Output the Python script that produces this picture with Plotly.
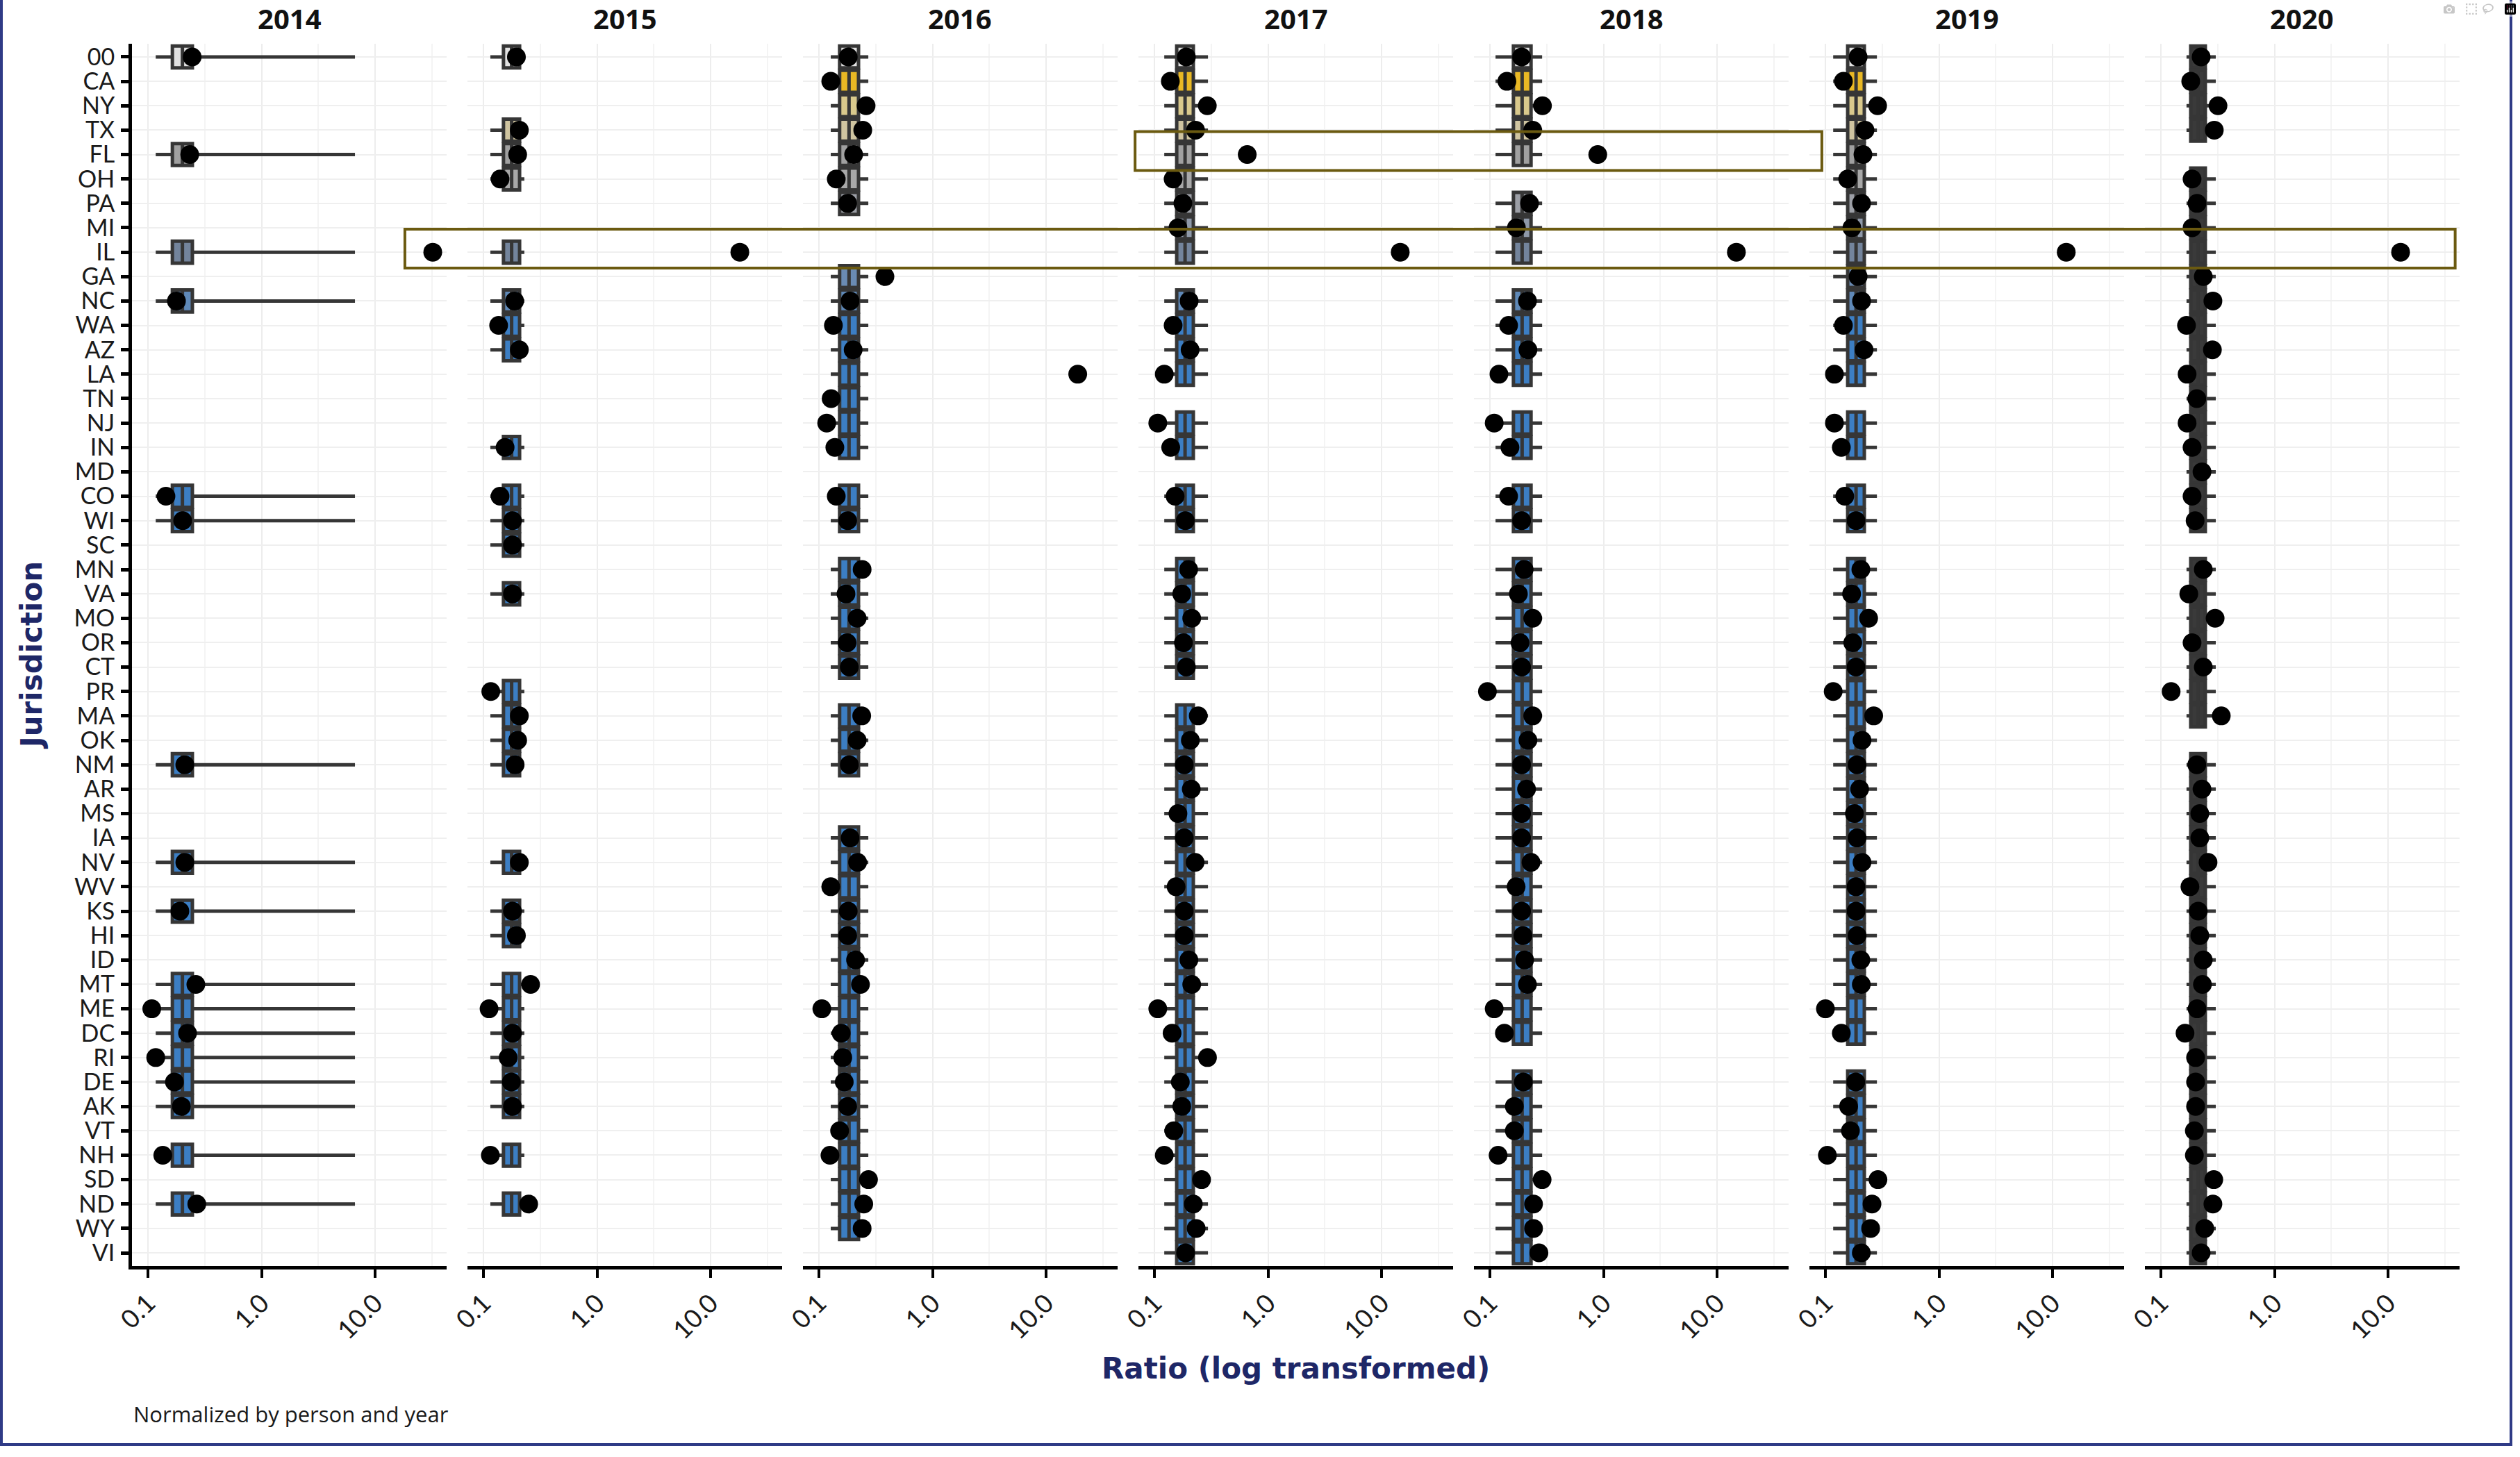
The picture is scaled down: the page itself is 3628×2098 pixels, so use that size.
import math
import plotly.graph_objects as go

# ---------------- data ----------------
jurisdictions = ["00", "CA", "NY", "TX", "FL", "OH", "PA", "MI", "IL", "GA",
                 "NC", "WA", "AZ", "LA", "TN", "NJ", "IN", "MD", "CO", "WI",
                 "SC", "MN", "VA", "MO", "OR", "CT", "PR", "MA", "OK", "NM",
                 "AR", "MS", "IA", "NV", "WV", "KS", "HI", "ID", "MT", "ME",
                 "DC", "RI", "DE", "AK", "VT", "NH", "SD", "ND", "WY", "VI"]
years = [2014, 2015, 2016, 2017, 2018, 2019, 2020]
x_tick_values = [0.1, 1, 10]
x_tick_labels = ["0.1", "1.0", "10.0"]

ratio_2014 = {"00": 0.245, "FL": 0.233, "IL": 32.2, "NC": 0.178, "CO": 0.144,
              "WI": 0.202, "NM": 0.211, "NV": 0.211, "KS": 0.191, "MT": 0.264,
              "ME": 0.108, "DC": 0.223, "RI": 0.117, "DE": 0.171, "AK": 0.197,
              "NH": 0.135, "ND": 0.269}
ratio_2015 = {"00": 0.195, "TX": 0.207, "FL": 0.200, "OH": 0.140, "IL": 18.1,
              "NC": 0.188, "WA": 0.136, "AZ": 0.207, "IN": 0.155, "CO": 0.140,
              "WI": 0.180, "SC": 0.180, "VA": 0.180, "PR": 0.116, "MA": 0.207,
              "OK": 0.200, "NM": 0.190, "NV": 0.207, "KS": 0.180, "HI": 0.195,
              "MT": 0.260, "ME": 0.112, "DC": 0.180, "RI": 0.165, "DE": 0.176,
              "AK": 0.180, "NH": 0.115, "ND": 0.250}
ratio_2016 = {"00": 0.181, "CA": 0.127, "NY": 0.260, "TX": 0.243, "FL": 0.202,
              "OH": 0.142, "PA": 0.179, "GA": 0.381, "NC": 0.188, "WA": 0.134,
              "AZ": 0.200, "LA": 19.0, "TN": 0.128, "NJ": 0.117, "IN": 0.138,
              "CO": 0.142, "WI": 0.179, "MN": 0.240, "VA": 0.173, "MO": 0.217,
              "OR": 0.177, "CT": 0.185, "MA": 0.238, "OK": 0.217, "NM": 0.185,
              "IA": 0.188, "NV": 0.219, "WV": 0.127, "KS": 0.181, "HI": 0.179,
              "ID": 0.210, "MT": 0.232, "ME": 0.106, "DC": 0.157, "RI": 0.162,
              "DE": 0.167, "AK": 0.179, "VT": 0.152, "NH": 0.125, "SD": 0.273,
              "ND": 0.248, "WY": 0.240}
ratio_2017 = {"00": 0.191, "CA": 0.138, "NY": 0.292, "TX": 0.230, "FL": 0.656,
              "OH": 0.146, "PA": 0.178, "MI": 0.161, "IL": 14.6, "NC": 0.202,
              "WA": 0.146, "AZ": 0.206, "LA": 0.122, "NJ": 0.107, "IN": 0.139,
              "CO": 0.152, "WI": 0.187, "MN": 0.200, "VA": 0.174, "MO": 0.213,
              "OR": 0.180, "CT": 0.191, "MA": 0.243, "OK": 0.207, "NM": 0.183,
              "AR": 0.211, "MS": 0.161, "IA": 0.183, "NV": 0.228, "WV": 0.155,
              "KS": 0.183, "HI": 0.183, "ID": 0.201, "MT": 0.213, "ME": 0.107,
              "DC": 0.143, "RI": 0.293, "DE": 0.169, "AK": 0.174, "VT": 0.148,
              "NH": 0.122, "SD": 0.260, "ND": 0.220, "WY": 0.233, "VI": 0.188}
ratio_2018 = {"00": 0.190, "CA": 0.141, "NY": 0.290, "TX": 0.238, "FL": 0.890,
              "PA": 0.223, "MI": 0.171, "IL": 14.8, "NC": 0.214, "WA": 0.146,
              "AZ": 0.216, "LA": 0.120, "NJ": 0.109, "IN": 0.150, "CO": 0.146,
              "WI": 0.190, "MN": 0.200, "VA": 0.178, "MO": 0.238, "OR": 0.184,
              "CT": 0.190, "PR": 0.095, "MA": 0.238, "OK": 0.216, "NM": 0.190,
              "AR": 0.210, "MS": 0.190, "IA": 0.190, "NV": 0.230, "WV": 0.170,
              "KS": 0.190, "HI": 0.195, "ID": 0.202, "MT": 0.214, "ME": 0.109,
              "DC": 0.134, "DE": 0.197, "AK": 0.164, "VT": 0.164, "NH": 0.118,
              "SD": 0.288, "ND": 0.242, "WY": 0.242, "VI": 0.270}
ratio_2019 = {"00": 0.194, "CA": 0.144, "NY": 0.288, "TX": 0.223, "FL": 0.214,
              "OH": 0.157, "PA": 0.208, "MI": 0.171, "IL": 13.2, "GA": 0.194,
              "NC": 0.208, "WA": 0.144, "AZ": 0.219, "LA": 0.120, "NJ": 0.120,
              "IN": 0.138, "CO": 0.148, "WI": 0.186, "MN": 0.205, "VA": 0.170,
              "MO": 0.240, "OR": 0.174, "CT": 0.186, "PR": 0.117, "MA": 0.266,
              "OK": 0.210, "NM": 0.190, "AR": 0.200, "MS": 0.180, "IA": 0.190,
              "NV": 0.210, "WV": 0.186, "KS": 0.186, "HI": 0.190, "ID": 0.205,
              "MT": 0.207, "ME": 0.100, "DC": 0.138, "DE": 0.185, "AK": 0.160,
              "VT": 0.166, "NH": 0.104, "SD": 0.290, "ND": 0.257, "WY": 0.250,
              "VI": 0.207}
ratio_2020 = {"00": 0.226, "CA": 0.183, "NY": 0.318, "TX": 0.295, "OH": 0.188,
              "PA": 0.208, "MI": 0.188, "IL": 12.9, "GA": 0.236, "NC": 0.287,
              "WA": 0.168, "AZ": 0.284, "LA": 0.170, "TN": 0.207, "NJ": 0.170,
              "IN": 0.188, "MD": 0.230, "CO": 0.188, "WI": 0.200, "MN": 0.236,
              "VA": 0.176, "MO": 0.300, "OR": 0.188, "CT": 0.236, "PR": 0.123,
              "MA": 0.340, "NM": 0.207, "AR": 0.230, "MS": 0.220, "IA": 0.220,
              "NV": 0.260, "WV": 0.180, "KS": 0.213, "HI": 0.220, "ID": 0.236,
              "MT": 0.232, "ME": 0.208, "DC": 0.163, "RI": 0.202, "DE": 0.202,
              "AK": 0.202, "VT": 0.197, "NH": 0.197, "SD": 0.292, "ND": 0.287,
              "WY": 0.243, "VI": 0.226}
ratios = [ratio_2014, ratio_2015, ratio_2016, ratio_2017, ratio_2018, ratio_2019, ratio_2020]

# yearly box summaries (same box repeated on every reported row)
whisker_low = [0.117, 0.115, 0.127, 0.122, 0.112, 0.117, 0.168]
box_q1 = [0.164, 0.150, 0.152, 0.157, 0.161, 0.157, 0.183]
box_median = [0.201, 0.177, 0.184, 0.186, 0.192, 0.186, 0.212]
box_q3 = [0.246, 0.208, 0.223, 0.220, 0.230, 0.220, 0.246]
whisker_high = [6.65, 0.229, 0.272, 0.296, 0.288, 0.284, 0.304]

# highlighted rows: (jurisdiction, first year, ratio at left edge, last year, ratio at right edge)
highlights = [("FL", 2017, 0.0675, 2019, 0.093),
              ("IL", 2014, 18.3, 2020, 39.0)]

# ---------------- style ----------------
FILL = {"00": "#E2E2E2", "CA": "#E9B824", "NY": "#D9C98C", "TX": "#CFC4A0",
        "FL": "#A0A0A0", "OH": "#A8A8A8", "PA": "#9C9FA6", "MI": "#8E98A8",
        "IL": "#73849C", "GA": "#6A8BB3", "NC": "#5F89B8"}
FILL_DEFAULT = "#3C7EC3"
FILL_LAST = "#3A3A3A"
NAVY = "#1E2767"
LINE = "#363636"

W, H = 3628, 2098
ML, MR, MT, MB = 190, 87, 63, 275
PW = W - ML - MR
PH = H - MT - MB
panel_w = 453
panel_gap = 30
XR = [-1.141, 1.63]
n_rows = len(jurisdictions)
YR = [n_rows - 1 + 0.54, -0.54]


def dom(i):
    a = i * (panel_w + panel_gap) / PW
    return [a, a + panel_w / PW]


def paper_x(i, v):
    d = dom(i)
    return d[0] + (math.log10(v) - XR[0]) / (XR[1] - XR[0]) * (d[1] - d[0])


fig = go.Figure()

for i, yr in enumerate(years):
    data = ratios[i]
    rows = [j for j in jurisdictions if j in data]
    xa = "x" if i == 0 else f"x{i + 1}"
    ya = "y" if i == 0 else f"y{i + 1}"
    groups = {}
    for j in rows:
        c = FILL_LAST if i == len(years) - 1 else FILL.get(j, FILL_DEFAULT)
        groups.setdefault(c, []).append(j)
    for c, js in groups.items():
        n = len(js)
        fig.add_trace(go.Box(
            y=js, q1=[box_q1[i]] * n, median=[box_median[i]] * n, q3=[box_q3[i]] * n,
            lowerfence=[whisker_low[i]] * n, upperfence=[whisker_high[i]] * n,
            orientation="h", fillcolor=c, line=dict(color=LINE, width=5),
            whiskerwidth=0, width=0.9, boxpoints=False, showlegend=False,
            hoverinfo="skip", xaxis=xa, yaxis=ya))
    fig.add_trace(go.Scatter(
        x=[data[j] for j in rows], y=rows, mode="markers",
        marker=dict(color="black", size=27, line=dict(width=0)),
        showlegend=False, xaxis=xa, yaxis=ya, cliponaxis=False))

layout = dict(
    width=W, height=H, margin=dict(l=ML, r=MR, t=MT, b=MB),
    paper_bgcolor="white", plot_bgcolor="white", boxmode="overlay",
    font=dict(family="Lato", size=36, color="#1a1a1a"),
)
for i, yr in enumerate(years):
    sx = "" if i == 0 else str(i + 1)
    layout["xaxis" + sx] = dict(
        type="log", range=XR, domain=dom(i), anchor="y" + sx,
        tickmode="array", tickvals=x_tick_values, ticktext=x_tick_labels,
        tickangle=-45, ticks="outside", ticklen=12, tickwidth=4, tickcolor="black",
        showline=True, linewidth=5, linecolor="black", mirror=False,
        showgrid=True, gridcolor="#EDEDED", gridwidth=2, zeroline=False,
        minor=dict(tickmode="array", tickvals=[0.316, 3.16, 31.6], showgrid=True,
                   gridcolor="#F4F4F4", gridwidth=2, ticks=""),
        tickfont=dict(family="Lato", size=37, color="#1a1a1a"), fixedrange=True)
    ydict = dict(
        type="category", categoryorder="array", categoryarray=jurisdictions,
        tickmode="array", tickvals=jurisdictions, ticktext=jurisdictions,
        range=YR, domain=[0, 1], anchor="x" + sx,
        showgrid=True, gridcolor="#EFEFEF", gridwidth=2, zeroline=False,
        fixedrange=True)
    if i == 0:
        ydict.update(showline=True, linewidth=5, linecolor="black", ticks="outside",
                     ticklen=11, tickwidth=5, tickcolor="black", showticklabels=True,
                     ticklabelstandoff=2,
                     tickfont=dict(family="Lato", size=34, color="#1a1a1a"))
    else:
        ydict.update(showline=False, ticks="", showticklabels=False)
    layout["yaxis" + sx] = ydict

annotations = []
for i, yr in enumerate(years):
    d = dom(i)
    annotations.append(dict(
        text=f"<b>{yr}</b>", x=(d[0] + d[1]) / 2, y=(PH + MT - 27) / PH,
        xref="paper", yref="paper", showarrow=False, xanchor="center", yanchor="middle",
        font=dict(family="Noto Sans", size=40, color="#111111")))
annotations.append(dict(
    text="<b>Ratio (log transformed)</b>", x=0.5, y=(PH + MT - 1971) / PH,
    xref="paper", yref="paper", showarrow=False, xanchor="center", yanchor="middle",
    font=dict(family="DejaVu Sans", size=42, color=NAVY)))
annotations.append(dict(
    text="<b>Jurisdiction</b>", x=(46 - ML) / PW, y=(PH + MT - 944) / PH, textangle=-90,
    xref="paper", yref="paper", showarrow=False, xanchor="center", yanchor="middle",
    font=dict(family="DejaVu Sans", size=42, color=NAVY)))
annotations.append(dict(
    text="Normalized by person and year", x=0, y=(PH + MT - 2036) / PH,
    xref="paper", yref="paper", showarrow=False, xanchor="left", yanchor="middle",
    font=dict(family="Open Sans", size=31, color="#1a1a1a")))
layout["annotations"] = annotations

shapes = []
for (jur, y0, v0, y1, v1) in highlights:
    idx = jurisdictions.index(jur)
    shapes.append(dict(
        type="rect", xref="paper", yref="y",
        x0=paper_x(years.index(y0), v0), x1=paper_x(years.index(y1), v1),
        y0=idx - 0.94, y1=idx + 0.65,
        line=dict(color="#6B5A10", width=4), fillcolor="rgba(0,0,0,0)", layer="above"))
# outer frame
shapes.append(dict(
    type="rect", xref="paper", yref="paper",
    x0=(2 - ML) / PW, x1=(3615 - ML) / PW, y0=(PH + MT - 2080) / PH, y1=(PH + MT + 5) / PH,
    line=dict(color="#2F3B86", width=4), fillcolor="rgba(0,0,0,0)", layer="above"))
layout["shapes"] = shapes

fig.update_layout(**layout)

fig.write_html("out.html", post_script="document.body.style.margin='0';document.body.style.overflow='hidden';")
